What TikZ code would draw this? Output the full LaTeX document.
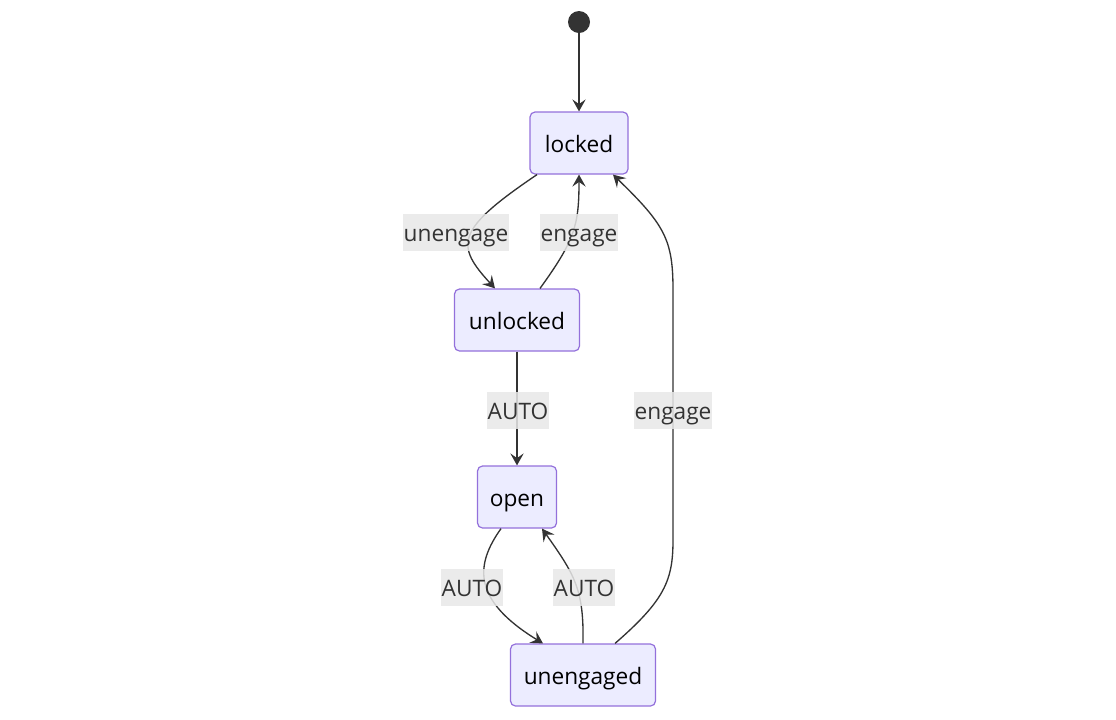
\documentclass[tikz,border=0pt]{standalone}
\usepackage{fontspec}
\setmainfont{Open Sans}
\usetikzlibrary{arrows.meta,positioning,calc}
\definecolor{estfill}{HTML}{ECECFF}
\definecolor{estborde}{HTML}{9370DB}
\definecolor{trazo}{HTML}{333333}
\definecolor{etiqfondo}{HTML}{E8E8E8}

\begin{document}
\begin{tikzpicture}[x=0.75pt,y=-0.75pt,font=\fontsize{17}{20}\selectfont,
          estado/.style={draw=estborde,fill=estfill,line width=0.9pt,rounded corners=3.75pt,minimum height=46.5pt,align=center,text=black,text height=18.6pt,text depth=4pt,inner ysep=0pt},
          etiqueta/.style={fill=etiqfondo,fill opacity=0.85,text opacity=1,text=trazo,minimum height=27.75pt,inner xsep=0.5pt,inner ysep=0pt,text height=18.6pt,text depth=4pt},
          linea/.style={draw=trazo,line width=1pt,-{Stealth[length=9pt,width=10pt,inset=3.5pt]}}]
        \useasboundingbox (0,0) rectangle (1116,719);
        \node[circle,fill=trazo,minimum size=16.5pt,inner sep=0pt] (inicio) at (579,22) {};
        \node[estado,minimum width=73.5pt] (locked) at (579,143) {locked};
        \node[estado,minimum width=93.75pt] (unlocked) at (517,320) {unlocked};
        \node[estado,minimum width=59.25pt] (open) at (517,497) {open};
        \node[estado,minimum width=108.75pt] (unengaged) at (583,675) {unengaged};
        \draw[linea] (inicio) -- (locked);
        \draw[linea] ($(locked.south)+(-42,0)$) .. controls (455,230) and (455,245) .. ($(unlocked.north)+(-22,0)$);
        \draw[linea] ($(unlocked.north)+(23,0)$) .. controls (575,240) and (579,225) .. (locked.south);
        \draw[linea] (unlocked) -- (open);
        \draw[linea] ($(open.south)+(-16,0)$) .. controls (475,565) and (472,600) .. ($(unengaged.north)+(-40,0)$);
        \draw[linea] (unengaged.north) .. controls (584,590) and (575,575) .. ($(open.south)+(25,0)$);
        % el regreso largo por la derecha
        \draw[linea] ($(unengaged.north)+(32,0)$) .. controls (665,600) and (673,580) .. (673,540)
              -- (673,290) .. controls (673,240) and (665,225) .. ($(locked.south)+(34,0)$);
        \node[etiqueta] (l1) at (456,232) {unengage};
        \node[etiqueta] (l2) at (579,232) {engage};
        \node[etiqueta] (l3) at (518,410) {AUTO};
        \node[etiqueta] (l4) at (673,410) {engage};
        \node[etiqueta] (l5) at (472,587) {AUTO};
        \node[etiqueta] (l6) at (584,587) {AUTO};
      \end{tikzpicture}
\end{document}
